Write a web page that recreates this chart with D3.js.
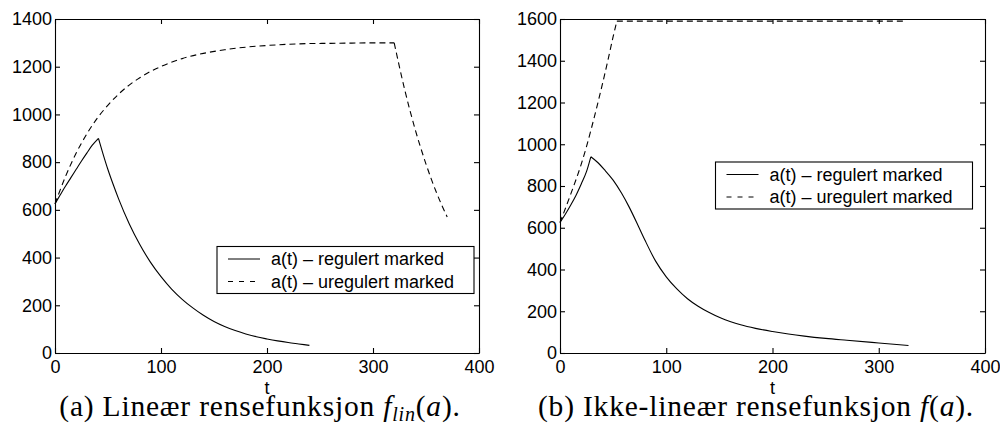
<!DOCTYPE html>
<html>
<head>
<meta charset="utf-8">
<script src="https://cdn.jsdelivr.net/npm/d3@7"></script>
<style>
  body { margin: 0; background: #fff; }
  svg { display: block; }
</style>
</head>
<body>
<div class="chart"></div>
<script>
// data
var xTicks = [0, 100, 200, 300, 400];
var yTicksLin = [0, 200, 400, 600, 800, 1000, 1200, 1400];
var yTicksNon = [0, 200, 400, 600, 800, 1000, 1200, 1400, 1600];
var legendLabels = ["a(t) \u2013 regulert marked", "a(t) \u2013 uregulert marked"];

// (a) lineaer rensefunksjon
var tLinReg = [0, 5, 10, 15, 20, 25, 30, 35, 41, 45, 50, 55, 60, 70, 80, 90, 100, 110, 120, 130, 140, 150, 160, 170, 180, 190, 200, 210, 220, 230, 240];
var aLinReg = [625, 663, 700, 735, 770, 805, 838, 870, 900, 839, 768, 705, 646, 542, 455, 381, 320, 268, 225, 189, 158, 132, 111, 94, 80, 68, 59, 51, 44, 38, 32];
var tLinUnreg = [0, 10, 20, 30, 40, 50, 60, 70, 80, 90, 100, 120, 140, 160, 180, 200, 220, 240, 260, 280, 300, 320, 330, 340, 350, 360, 370];
var aLinUnreg = [625, 741, 838, 918, 985, 1039, 1085, 1123, 1154, 1180, 1201, 1234, 1256, 1271, 1282, 1289, 1294, 1297, 1298, 1299, 1300, 1300, 1102, 934, 792, 671, 570];

// (b) ikke-lineaer rensefunksjon
var tNonReg = [0, 5, 10, 15, 20, 25, 29, 35, 42, 50, 58, 65, 74, 80, 90, 100, 110, 120, 130, 140, 152, 160, 170, 184, 200, 215, 230, 250, 270, 300, 328];
var aNonReg = [625, 665, 708, 755, 810, 870, 940, 915, 877, 828, 765, 700, 605, 540, 440, 365, 307, 260, 224, 195, 166, 151, 135, 118, 103, 91, 81, 70, 61, 48, 36];
var tNonUnreg = [0, 10, 20, 25, 30, 35, 40, 45, 50, 53.5, 100, 150, 200, 250, 300, 326];
var aNonUnreg = [625, 760, 905, 990, 1085, 1185, 1290, 1400, 1515, 1590, 1590, 1590, 1590, 1590, 1590, 1590];

// knekkpunkt (der kurvene skifter fase)
var breaksLinReg = [41], breaksLinUnreg = [320], breaksNonReg = [29], breaksNonUnreg = [53.5];

var width = 1000, height = 425;
var svg = d3.select(".chart").append("svg")
	.attr("width", width)
	.attr("height", height);

var sansFont = "Liberation Sans, Arial, Helvetica, sans-serif";
var serifFont = "Liberation Serif, Times New Roman, serif";

drawPanel({
	left: 55, right: 479, top: 19, bottom: 353,
	yMax: 1400, yTicks: yTicksLin,
	reg: [tLinReg, aLinReg, breaksLinReg],
	unreg: [tLinUnreg, aLinUnreg, breaksLinUnreg],
	legend: [217, 246.5],
	captionX: 260,
	caption: [["(a) Line\u00e6r rensefunksjon ", ""], ["f", "i"], ["lin", "sub"], ["(", ""], ["a", "i"], [").", ""]]
});
drawPanel({
	left: 560, right: 985, top: 19, bottom: 353,
	yMax: 1600, yTicks: yTicksNon,
	reg: [tNonReg, aNonReg, breaksNonReg],
	unreg: [tNonUnreg, aNonUnreg, breaksNonUnreg],
	legend: [715.5, 162],
	captionX: 756,
	caption: [["(b) Ikke-line\u00e6r rensefunksjon ", ""], ["f", "i"], ["(", ""], ["a", "i"], [").", ""]]
});

function drawPanel(cfg) {
	var g = svg.append("g");
	var x = d3.scaleLinear().domain([0, 400]).range([cfg.left, cfg.right]);
	var y = d3.scaleLinear().domain([0, cfg.yMax]).range([cfg.bottom, cfg.top]);
	var fmt = d3.format("d");

	// kurver
	drawSeries(g, x, y, cfg.reg, null);
	drawSeries(g, x, y, cfg.unreg, "6,4");

	// akser (ticks innover, boks rundt)
	var gb = g.append("g")
		.attr("transform", "translate(0," + cfg.bottom + ")")
		.call(d3.axisBottom(x).tickValues(xTicks).tickFormat(fmt).tickSize(-5).tickSizeOuter(0).tickPadding(7));
	var gl = g.append("g")
		.attr("transform", "translate(" + cfg.left + ",0)")
		.call(d3.axisLeft(y).tickValues(cfg.yTicks).tickFormat(fmt).tickSize(-5).tickSizeOuter(0).tickPadding(3));
	var gt = g.append("g")
		.attr("transform", "translate(0," + cfg.top + ")")
		.call(d3.axisTop(x).tickValues(xTicks).tickSize(-5).tickSizeOuter(0).tickFormat(""));
	var gr = g.append("g")
		.attr("transform", "translate(" + cfg.right + ",0)")
		.call(d3.axisRight(y).tickValues(cfg.yTicks).tickSize(-5).tickSizeOuter(0).tickFormat(""));
	[gb, gl, gt, gr].forEach(function(a) {
		a.attr("font-size", 18).attr("font-family", sansFont);
		a.selectAll("path, line").attr("stroke", "#000").attr("stroke-width", 1.1);
		a.selectAll("text").attr("fill", "#000");
	});

	// x-label
	g.append("text")
		.attr("x", (cfg.left + cfg.right) / 2)
		.attr("y", 394)
		.attr("text-anchor", "middle")
		.attr("font-family", sansFont)
		.attr("font-size", 18)
		.text("t");

	// legende
	var lx = cfg.legend[0], ly = cfg.legend[1];
	var lg = g.append("g");
	lg.append("rect")
		.attr("x", lx).attr("y", ly)
		.attr("width", 257).attr("height", 47)
		.attr("fill", "#fff")
		.attr("stroke", "#000")
		.attr("stroke-width", 1.1);
	legendLabels.forEach(function(label, i) {
		var ry = ly + 12.5 + i * 22.5;
		lg.append("line")
			.attr("x1", lx + 11).attr("x2", lx + 43)
			.attr("y1", ry).attr("y2", ry)
			.attr("stroke", "#000")
			.attr("stroke-width", 1)
			.attr("stroke-dasharray", i == 1 ? "5,6" : null);
		lg.append("text")
			.attr("x", lx + 54)
			.attr("y", ry)
			.attr("dy", "0.35em")
			.attr("font-family", sansFont)
			.attr("font-size", 18)
			.text(label);
	});

	// bildetekst
	var cap = g.append("text")
		.attr("x", cfg.captionX)
		.attr("y", 416)
		.attr("text-anchor", "middle")
		.attr("font-family", serifFont)
		.attr("font-size", 29.5)
		.attr("letter-spacing", 0.8);
	var shifted = false;
	cfg.caption.forEach(function(part) {
		var ts = cap.append("tspan").text(part[0]);
		if (part[1] == "i" || part[1] == "sub") ts.attr("font-style", "italic");
		if (part[1] == "sub") {
			ts.attr("font-size", 20).attr("dy", 4.5);
			shifted = true;
		} else if (shifted) {
			ts.attr("dy", -4.5);
			shifted = false;
		}
	});
}

function drawSeries(g, x, y, series, dash) {
	var ts = series[0], vs = series[1], breaks = series[2];
	var pts = ts.map(function(t, i) { return [t, vs[i]]; });
	// del kurven i knekkpunktene så toppene blir skarpe
	var segments = [], current = [];
	pts.forEach(function(p) {
		current.push(p);
		if (breaks.indexOf(p[0]) >= 0) {
			segments.push(current);
			current = [p];
		}
	});
	if (current.length > 1) segments.push(current);

	var line = d3.line()
		.x(function(d) { return x(d[0]); })
		.y(function(d) { return y(d[1]); })
		.curve(d3.curveMonotoneX);

	var pathStr = segments.map(function(s) { return line(s); }).join("");
	g.append("path")
		.attr("d", pathStr)
		.attr("fill", "none")
		.attr("stroke", "#000")
		.attr("stroke-width", 1.1)
		.attr("stroke-dasharray", dash);
}
</script>
</body>
</html>
